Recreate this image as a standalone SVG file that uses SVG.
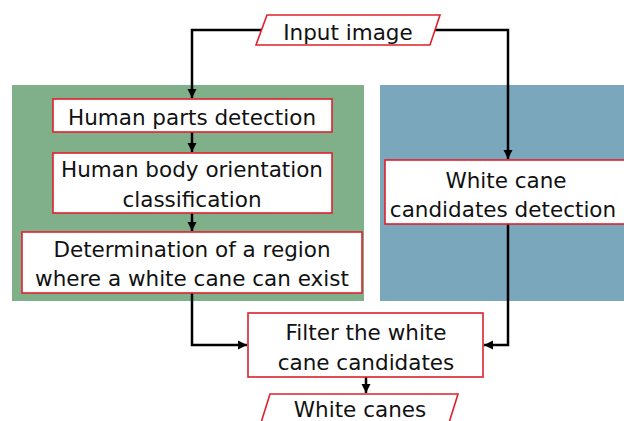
<svg xmlns="http://www.w3.org/2000/svg" width="624" height="421" viewBox="0 0 624 421">
<style>
.box{fill:#ffffff;stroke:#e0202c;stroke-width:1.6}
.t{font-family:"DejaVu Sans","Liberation Sans",sans-serif;font-size:21.5px;fill:#111111;text-anchor:middle}
.c{fill:none;stroke:#000000;stroke-width:2.5}
</style>
<defs>
<marker id="ah" markerWidth="10" markerHeight="10" refX="9" refY="5" orient="auto" markerUnits="userSpaceOnUse">
<path d="M0,0.5 L9,5 L0,9.5 Z" fill="#000000"/>
</marker>
</defs>
<rect width="624" height="421" fill="#ffffff"/>
<g id="regions">
<rect x="12" y="85" width="352" height="216" fill="#80b08a"/>
<rect x="380" y="85" width="244" height="216" fill="#7aa7bb"/>
</g>
<g id="connectors">
<path class="c" d="M262,30 H192 V98" marker-end="url(#ah)"/>
<path class="c" d="M435,30 H508 V159" marker-end="url(#ah)"/>
<path class="c" d="M192,132 V152" marker-end="url(#ah)"/>
<path class="c" d="M192,213 V231" marker-end="url(#ah)"/>
<path class="c" d="M192,293 V345 H247" marker-end="url(#ah)"/>
<path class="c" d="M508,224 V345 H484" marker-end="url(#ah)"/>
<path class="c" d="M366,377 V393" marker-end="url(#ah)"/>
</g>
<g id="input">
<polygon class="box" points="267,15 440,15 430,45 256,45"/>
<text class="t" x="348" y="40">Input image</text>
</g>
<g id="parts">
<rect class="box" x="53" y="99" width="279" height="33"/>
<text class="t" x="192" y="125">Human parts detection</text>
</g>
<g id="orientation">
<rect class="box" x="53" y="153" width="279" height="60"/>
<text class="t" x="192" y="177">Human body orientation</text>
<text class="t" x="192" y="207">classification</text>
</g>
<g id="region">
<rect class="box" x="22" y="232" width="340" height="61"/>
<text class="t" x="192" y="257">Determination of a region</text>
<text class="t" x="192" y="286">where a white cane can exist</text>
</g>
<g id="candidates">
<rect class="box" x="385" y="160" width="242" height="64"/>
<text class="t" x="506" y="188">White cane</text>
<text class="t" x="503" y="217">candidates detection</text>
</g>
<g id="filter">
<rect class="box" x="248" y="313" width="235" height="64"/>
<text class="t" x="366" y="340">Filter the white</text>
<text class="t" x="366" y="370">cane candidates</text>
</g>
<g id="output">
<polygon class="box" points="270,394 458,394 448,426 260,426"/>
<text class="t" x="360" y="417">White canes</text>
</g>
</svg>
